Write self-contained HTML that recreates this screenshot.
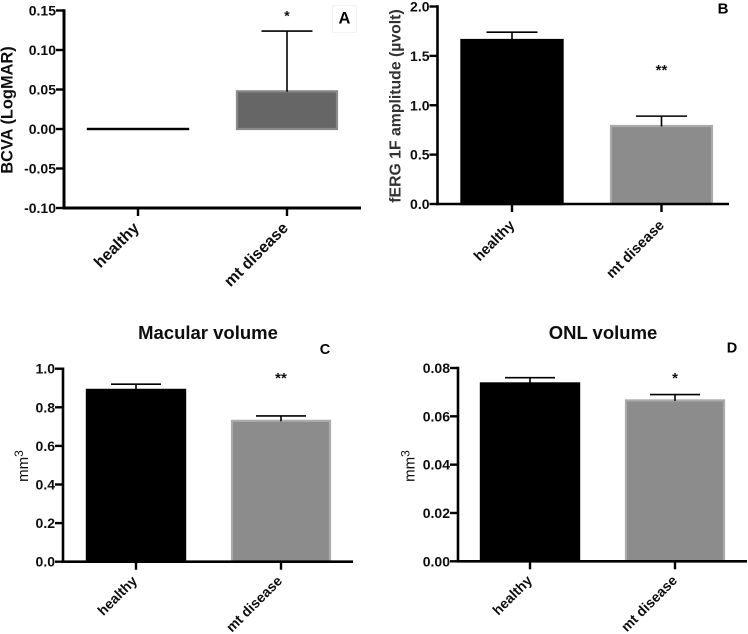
<!DOCTYPE html>
<html>
<head>
<meta charset="utf-8">
<title>Four bar chart panels</title>
<style>
html,body{margin:0;padding:0;background:#fff;}
svg{display:block;}
text{font-family:"Liberation Sans",Arial,sans-serif;fill:#111;}
</style>
</head>
<body>
<svg id="figure" xmlns="http://www.w3.org/2000/svg" width="748" height="634" viewBox="0 0 748 634">
<defs><filter id="soft" x="-5%" y="-5%" width="110%" height="110%"><feGaussianBlur stdDeviation="0.35"/></filter></defs>
<g id="root" filter="url(#soft)"></g>
</svg>
<script>
const categories = ["healthy", "mt disease"];

const ticksA = ["-0.10", "-0.05", "0.00", "0.05", "0.10", "0.15"];
const meansA = [0, 0.049];
const errorsA = [null, 0.124];

const ticksB = ["0.0", "0.5", "1.0", "1.5", "2.0"];
const meansB = [1.67, 0.80];
const errorsB = [1.74, 0.89];

const ticksC = ["0.0", "0.2", "0.4", "0.6", "0.8", "1.0"];
const meansC = [0.895, 0.735];
const errorsC = [0.92, 0.755];

const ticksD = ["0.00", "0.02", "0.04", "0.06", "0.08"];
const meansD = [0.074, 0.067];
const errorsD = [0.076, 0.069];

const SVGNS = "http://www.w3.org/2000/svg";
const root = document.getElementById("root");

function make(tag, attrs, parent, content) {
  const el = document.createElementNS(SVGNS, tag);
  for (const k in attrs) el.setAttribute(k, attrs[k]);
  if (content !== undefined) el.textContent = content;
  parent.appendChild(el);
  return el;
}

function drawPanel(p) {
  const g = make("g", {}, root);
  
  

  const lo = parseFloat(p.ticks[0]);
  const hi = parseFloat(p.ticks[p.ticks.length - 1]);
  const yScale = v => p.bottom + (v - lo) / (hi - lo) * (p.top - p.bottom);
  const xScale = i => p.firstCenter + i * p.step;
  const base = yScale(Math.max(lo, 0));

  p.means.forEach((m, i) => {
    const cx = xScale(i);
    const yv = yScale(m);
    const dark = i === 0;
    const innerTop = Math.min(yv + 1, base - 0.01);
    const bar = make("rect", {
      x: cx - p.barW / 2 + 1, y: innerTop,
      width: p.barW - 2, height: Math.max(base - innerTop, 0.01),
      fill: dark ? "#000" : p.fill,
      stroke: dark ? "#000" : p.edge, "stroke-width": dark ? 2.4 : 2.2
    }, g);
    
    

    if (p.errors[i] !== null) {
      const ye = yScale(p.errors[i]);
      const stem = make("line", { x1: cx, x2: cx, y1: ye, y2: yv + 1.5, stroke: "#000", "stroke-width": p.errW }, g);
      
      
      const cap = make("line", { x1: cx - p.capW / 2, x2: cx + p.capW / 2, y1: ye, y2: ye, stroke: "#000", "stroke-width": p.errW }, g);
      
      
    }
  });

  const yAxis = make("line", { x1: p.left, x2: p.left, y1: p.top - 1.2, y2: p.bottom + 1.2, stroke: "#000", "stroke-width": p.axisW }, g);
  
  
  const xAxis = make("line", { x1: p.left - 1, x2: p.right, y1: p.bottom, y2: p.bottom, stroke: "#000", "stroke-width": p.axisW }, g);
  
  

  p.ticks.forEach(t => {
    const y = yScale(parseFloat(t));
    const mark = make("line", { x1: p.left - 8, x2: p.left, y1: y, y2: y, stroke: "#000", "stroke-width": 2.4 }, g);
    
    
    const lab = make("text", { x: p.left - 8, y: y + 5, "text-anchor": "end", "font-size": 14, "font-weight": "bold" }, g, t);
    
    
  });

  categories.forEach((c, i) => {
    const cx = xScale(i);
    const mark = make("line", { x1: cx, x2: cx, y1: p.bottom, y2: p.bottom + 8, stroke: "#000", "stroke-width": 2.4 }, g);
    
    
    const tx = cx + p.labelDx;
    const ty = p.bottom + p.labelDy;
    const lab = make("text", {
      x: tx, y: ty, "text-anchor": "end", "font-size": p.labelSize, "font-weight": "bold",
      transform: "rotate(-45 " + tx + " " + ty + ")"
    }, g, c);
    
    
  });

  const yt = make("text", {
    x: p.yTitleX, y: p.yTitleY, "text-anchor": "middle",
    "font-size": p.yTitleSize, "font-weight": p.yTitleWeight,
    style: "fill:" + p.yTitleColor,
    transform: "rotate(-90 " + p.yTitleX + " " + p.yTitleY + ")"
  }, g);
  
  
  yt.textContent = p.yTitle;
  if (p.yTitleSup) {
    const sup = make("tspan", { dy: -5, "font-size": p.yTitleSize - 3 }, yt, p.yTitleSup);
    
    
  }

  if (p.title) {
    const tt = make("text", { x: p.titleX, y: p.titleY, "text-anchor": "middle", "font-size": 18.5, "font-weight": "bold" }, g, p.title);
    
    
  }

  if (p.letterBox) {
    const box = make("rect", { x: p.letterX - 12, y: p.letterY - 18, width: 24, height: 27, fill: "#fff", stroke: "#f4f4f4", "stroke-width": 1 }, g);
    
    
  }
  const letter = make("text", { x: p.letterX, y: p.letterY, "text-anchor": "middle", "font-size": p.letterSize, "font-weight": "bold", style: "fill:#000" }, g, p.id);
  
  

  const star = make("text", { x: xScale(1), y: p.starY, "text-anchor": "middle", "font-size": p.starSize, "font-weight": "bold" }, g, p.star);
  
  
}

drawPanel({
  id: "A", ticks: ticksA, means: meansA, errors: errorsA,
  left: 64, right: 361, top: 10.5, bottom: 208, firstCenter: 138, step: 149,
  barW: 102, capW: 51, errW: 1.6, axisW: 3, fill: "#666", edge: "#8a8a8a",
  labelSize: 16, labelDx: 2, labelDy: 21,
  yTitle: "BCVA (LogMAR)", yTitleX: 12.5, yTitleY: 110, yTitleSize: 16.4, yTitleWeight: "bold", yTitleColor: "#111",
  letterX: 344.5, letterY: 23.5, letterSize: 16.5, letterBox: true, star: "*", starY: 20.5, starSize: 14
});
drawPanel({
  id: "B", ticks: ticksB, means: meansB, errors: errorsB,
  left: 437.5, right: 729, top: 6.5, bottom: 204, firstCenter: 512, step: 149.5,
  barW: 103, capW: 51, errW: 1.6, axisW: 2.6, fill: "#8c8c8c", edge: "#aaa",
  labelSize: 14.5, labelDx: 3.5, labelDy: 22,
  yTitle: "fERG 1F amplitude (\u00b5volt)", yTitleX: 400.5, yTitleY: 106, yTitleSize: 15.8, yTitleWeight: "bold", yTitleColor: "#333",
  letterX: 723, letterY: 13.5, letterSize: 15, star: "**", starY: 75, starSize: 15
});
drawPanel({
  id: "C", ticks: ticksC, means: meansC, errors: errorsC,
  left: 63, right: 353, top: 368.7, bottom: 561.7, firstCenter: 136, step: 145,
  barW: 100, capW: 50, errW: 1.6, axisW: 2.6, fill: "#8c8c8c", edge: "#aaa",
  labelSize: 14, labelDx: 2, labelDy: 20,
  yTitle: "mm", yTitleSup: "3", yTitleX: 28, yTitleY: 466, yTitleSize: 15, yTitleWeight: "normal", yTitleColor: "#111",
  title: "Macular volume", titleX: 208, titleY: 339,
  letterX: 325, letterY: 354, letterSize: 14.5, star: "**", starY: 383, starSize: 15
});
drawPanel({
  id: "D", ticks: ticksD, means: meansD, errors: errorsD,
  left: 458, right: 747, top: 368, bottom: 561.3, firstCenter: 530, step: 145,
  barW: 100, capW: 50, errW: 1.6, axisW: 2.6, fill: "#8c8c8c", edge: "#aaa",
  labelSize: 14, labelDx: 3, labelDy: 20,
  yTitle: "mm", yTitleSup: "3", yTitleX: 414.5, yTitleY: 466, yTitleSize: 15, yTitleWeight: "normal", yTitleColor: "#111",
  title: "ONL volume", titleX: 603, titleY: 339,
  letterX: 732, letterY: 352.5, letterSize: 14.5, star: "*", starY: 383, starSize: 15
});
</script>
</body>
</html>
